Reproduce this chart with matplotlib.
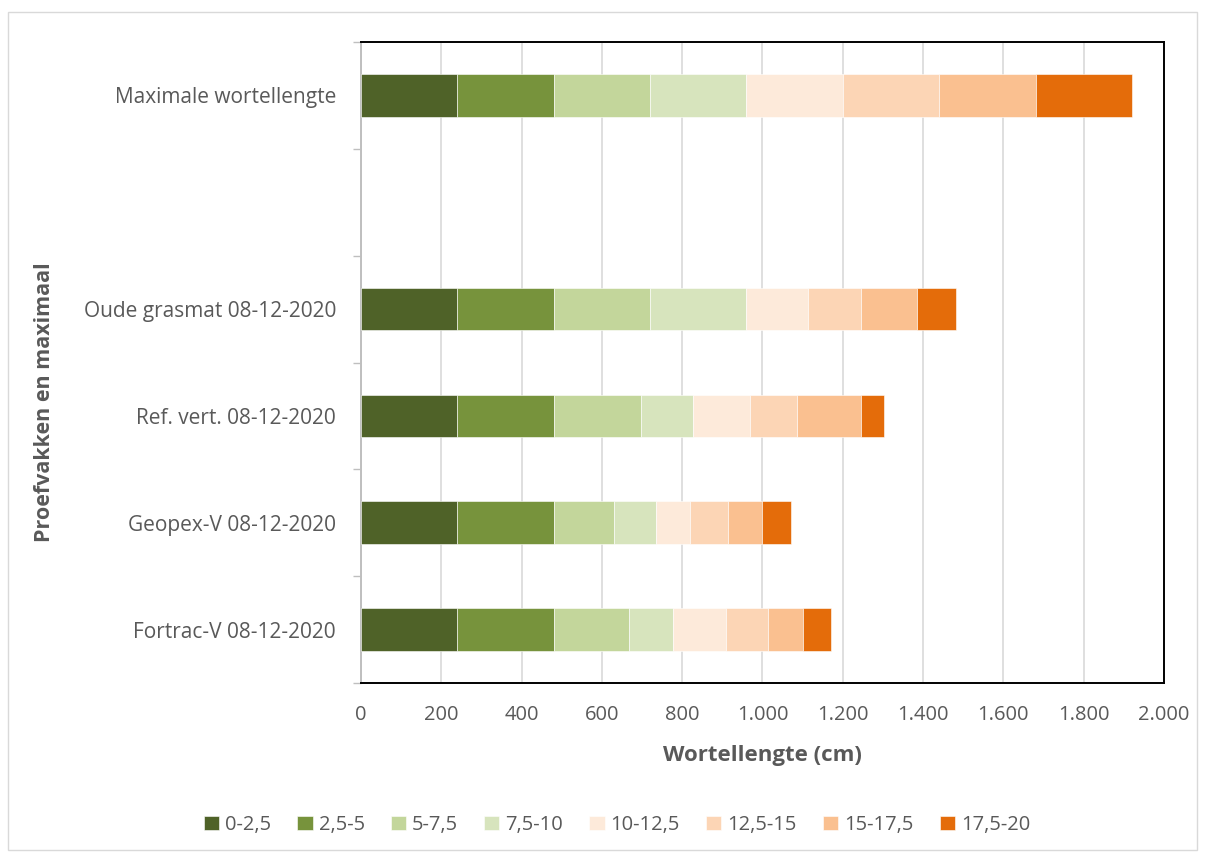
import matplotlib.pyplot as plt
import numpy as np
from matplotlib.patches import Rectangle

plt.rcParams["font.family"] = ["Open Sans", "DejaVu Sans"]

# Categories top to bottom (one empty slot between max and the plots)
categories = [
    "Maximale wortellengte",
    "",
    "Oude grasmat 08-12-2020",
    "Ref. vert. 08-12-2020",
    "Geopex-V 08-12-2020",
    "Fortrac-V 08-12-2020",
]
depth_classes = ["0-2,5", "2,5-5", "5-7,5", "7,5-10", "10-12,5", "12,5-15", "15-17,5", "17,5-20"]

# root length (cm) per depth class, per category (rows follow categories)
values = [
    [240, 240, 240, 240, 240, 240, 240, 240],
    [0, 0, 0, 0, 0, 0, 0, 0],
    [240, 240, 240, 240, 154, 131, 140, 97],
    [240, 240, 217, 130, 142, 117, 160, 56],
    [240, 240, 149, 105, 86, 93, 86, 72],
    [240, 240, 187, 110, 133, 104, 86, 71],
]
colors = ["#4F6228", "#77933C", "#C3D69B", "#D7E4BD", "#FDEADA", "#FCD5B5", "#FAC090", "#E46C0A"]

text_col = "#595959"

fig = plt.figure(figsize=(12.05, 8.55), dpi=100)
ax = fig.add_axes([361 / 1205, 1 - 683 / 855, 803 / 1205, 641 / 855])

# outer light border
fig.patches.append(Rectangle((8 / 1205, 5 / 855), 1189 / 1205, 838 / 855,
                             transform=fig.transFigure, fill=False,
                             edgecolor="#D9D9D9", linewidth=1))

vals = np.array(values, dtype=float)
y = np.arange(len(categories))
has_data = vals.sum(axis=1) > 0
left = np.zeros(len(categories))
for i, lab in enumerate(depth_classes):
    ax.barh(y[has_data], vals[has_data, i], left=left[has_data], height=0.4,
            color=colors[i], label=lab, edgecolor="white", linewidth=0.4, zorder=3)
    left += vals[:, i]

ax.set_xlim(0, 2000)
ax.set_ylim(len(categories) - 0.5, -0.5)
ax.set_xticks(np.arange(0, 2001, 200))
ax.set_xticklabels(["0", "200", "400", "600", "800", "1.000", "1.200", "1.400",
                    "1.600", "1.800", "2.000"])
ax.set_yticks(y)
ax.set_yticklabels(categories)
ax.set_yticks(np.arange(-0.5, len(categories), 1), minor=True)
ax.tick_params(axis="y", which="major", length=0, pad=18, labelsize=15, labelcolor=text_col)
ax.tick_params(axis="y", which="minor", length=6, color="#BFBFBF", width=1)
ax.tick_params(axis="x", length=0, pad=16, labelsize=14.5, labelcolor=text_col)

ax.grid(axis="x", color="#D9D9D9", linewidth=1.2, zorder=0)
for side in ["top", "right", "bottom"]:
    ax.spines[side].set_color("black")
    ax.spines[side].set_linewidth(1.4)
ax.spines["left"].set_color("#BFBFBF")
ax.spines["left"].set_linewidth(1.4)

ax.set_xlabel("Wortellengte (cm)", fontsize=16, fontweight="bold", color=text_col, labelpad=14)
fig.text(45 / 1205, 1 - 402 / 855, "Proefvakken en maximaal", rotation=90, fontsize=15.5,
         fontweight="bold", color=text_col, ha="center", va="center")

fig.legend(loc="center", bbox_to_anchor=(617 / 1205, 1 - 825 / 855), ncol=8, frameon=False,
           fontsize=14.5, labelcolor=text_col, handlelength=0.75, handleheight=0.75,
           handletextpad=0.3, columnspacing=1.3)

plt.savefig("out.png", dpi=100)
